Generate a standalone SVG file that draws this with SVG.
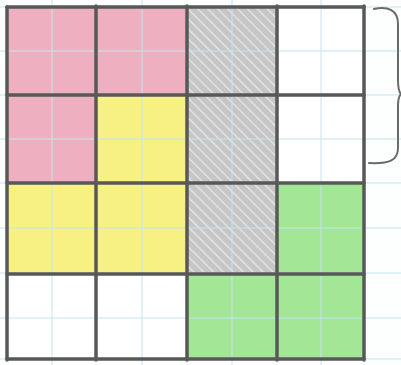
<svg xmlns="http://www.w3.org/2000/svg" width="401" height="365" viewBox="0 0 401 365">
<defs>
<style>
.paper{stroke:#c4e4ee;stroke-width:1;fill:none}
.pink{fill:#eeb0c0}
.yellow{fill:#f7f183}
.green{fill:#a2e696}
.white{fill:#ffffff}
.gray{fill:url(#hatch)}
.grid{stroke:#585858;stroke-width:3.5;stroke-linecap:round;fill:none}
.brace{stroke:#6a6a6a;stroke-width:2;fill:none;stroke-linecap:round;stroke-linejoin:round}
</style>
<pattern id="hatch" patternUnits="userSpaceOnUse" width="7" height="7" patternTransform="rotate(-45)">
<rect width="7" height="7" fill="#c6c6c6"/>
<line x1="0" y1="0" x2="0" y2="7" stroke="#e8e8e8" stroke-width="2.5"/>
</pattern>
</defs>
<rect width="401" height="365" fill="#fdfefe"/>
<g id="cells">
<rect class="pink" x="7" y="7" width="89" height="88"/>
<rect class="pink" x="96" y="7" width="91" height="88"/>
<rect class="gray" x="187" y="7" width="90" height="88"/>
<rect class="white" x="277" y="7" width="87" height="88"/>
<rect class="pink" x="7" y="95" width="89" height="88"/>
<rect class="yellow" x="96" y="95" width="91" height="88"/>
<rect class="gray" x="187" y="95" width="90" height="88"/>
<rect class="white" x="277" y="95" width="87" height="88"/>
<rect class="yellow" x="7" y="183" width="89" height="91"/>
<rect class="yellow" x="96" y="183" width="91" height="91"/>
<rect class="gray" x="187" y="183" width="90" height="91"/>
<rect class="green" x="277" y="183" width="87" height="91"/>
<rect class="white" x="7" y="274" width="89" height="85"/>
<rect class="white" x="96" y="274" width="91" height="85"/>
<rect class="green" x="187" y="274" width="90" height="85"/>
<rect class="green" x="277" y="274" width="87" height="85"/>
</g>
<g id="paper-grid" class="paper">
<path d="M0 51H401M0 139H401M0 228H401M0 318H401M0 95H401M0 183H401M0 273H401M0 7H401M0 359H401"/>
<path d="M52 0V365M142 0V365M232 0V365M321 0V365"/>
</g>
<g id="grid" class="grid">
<path d="M7 7V360M96 6V360M187 6V360M277 6V360M364 6V360"/>
<path d="M7 7H364M7 95H364M7 183H364M7 274H364M7 359H364"/>
</g>
<g id="brace">
<path class="brace" d="M374 9C388 6 398 10 398 24V80C398 88 399 92 401 94C399 96 398 100 398 106V148C398 160 390 164 369 163"/>
</g>
</svg>
